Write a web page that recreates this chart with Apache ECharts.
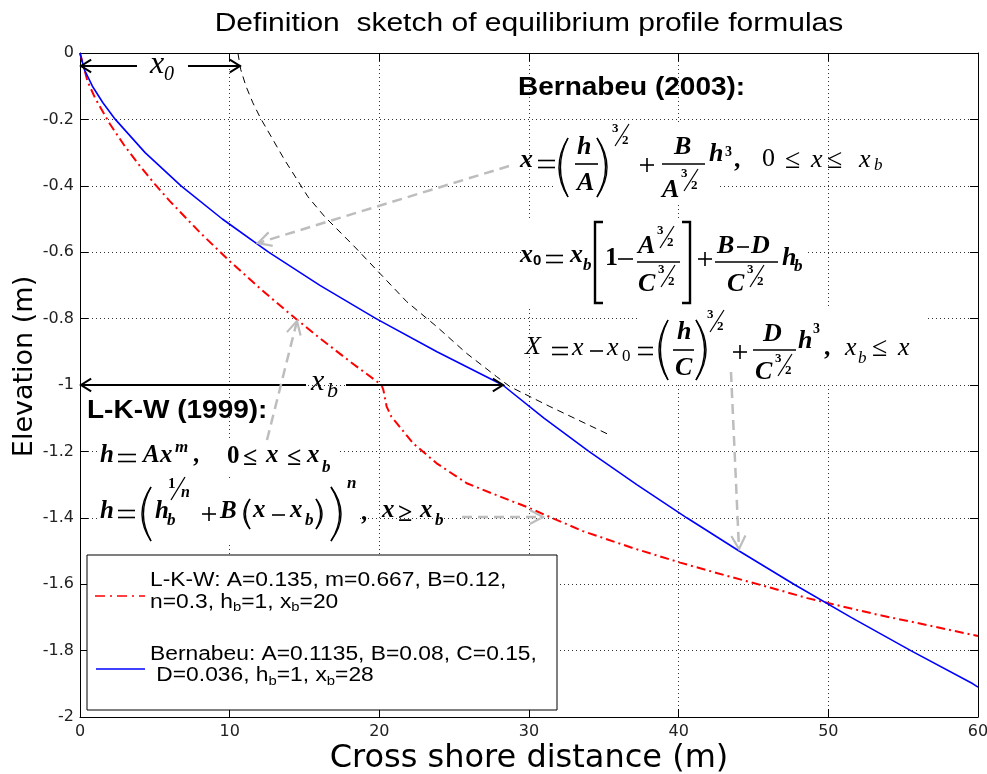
<!DOCTYPE html>
<html><head><meta charset="utf-8">
<script src="https://cdn.jsdelivr.net/npm/echarts@6/dist/echarts.min.js"></script>
<style>html,body{margin:0;padding:0;background:#fff}#c{width:987px;height:774px}</style>
</head><body><div id="c"></div>
<script>
// ---------- data ----------
const xTickLabels = ['0', '10', '20', '30', '40', '50', '60'];
const yTickLabels = ['0', '-0.2', '-0.4', '-0.6', '-0.8', '-1', '-1.2', '-1.4', '-1.6', '-1.8', '-2'];

// L-K-W (1999) profile
const lkwX = [0, 0.5, 1, 2, 3, 4, 5, 6, 8, 10, 12, 14, 16, 18, 20, 20.15, 20.27, 20.49, 20.8, 21.16, 22.27, 23.83, 25.84, 28.06, 30.0, 31.0, 33.6, 37.0, 40.1, 42.6, 44.8, 46.5, 48.6, 50.1, 53.4, 56.6, 60];
const lkwH = [0, -0.085, -0.135, -0.214, -0.281, -0.340, -0.395, -0.446, -0.540, -0.627, -0.708, -0.785, -0.858, -0.928, -0.995, -1.0, -1.015, -1.065, -1.095, -1.115, -1.176, -1.236, -1.296, -1.336, -1.37, -1.39, -1.44, -1.492, -1.535, -1.567, -1.594, -1.615, -1.642, -1.658, -1.693, -1.723, -1.756];

// Bernabeu (2003) profile
const bernX = [0, 0.29, 0.83, 1.53, 2.36, 4.35, 6.75, 9.51, 12.6, 16.03, 19.78, 23.85, 28.24, 31.0, 34.0, 37.2, 40.54, 44.04, 47.7, 51.52, 55.51, 59.66, 60];
const bernH = [0, -0.05, -0.1, -0.15, -0.2, -0.3, -0.4, -0.5, -0.6, -0.7, -0.8, -0.9, -1.0, -1.1, -1.2, -1.3, -1.4, -1.5, -1.6, -1.7, -1.8, -1.9, -1.91];

// dashed outer (shoaling) branch starting at x0
const dashX = [10.55, 10.74, 11.09, 11.55, 12.07, 13.67, 15.23, 16.35, 18.27, 20.04, 21.83, 23.83, 25.84, 27.84, 28.73, 31.4, 35.41];
const dashH = [0, -0.05, -0.1, -0.15, -0.197, -0.322, -0.433, -0.493, -0.58, -0.664, -0.749, -0.824, -0.905, -0.975, -1.005, -1.065, -1.151];

const seriesNames = ['L-K-W', 'Bernabeu', 'x0 branch'];

// ---------- helpers for annotations ----------
const SERIF = '"Liberation Serif","Times New Roman",serif';
const SANS = '"Liberation Sans",Arial,sans-serif';
const G = [];
function txt(x, y, s, size, o) {
  o = o || {};
  const st = {text: s, fontSize: size, fontFamily: o.ff || SERIF, fontWeight: o.fw || 'bold',
    fontStyle: o.fs || 'italic', fill: o.c || '#000', textAlign: o.al || 'left', textVerticalAlign: 'middle',
    align: o.al || 'left', verticalAlign: 'middle'};
  if (o.rich) st.rich = o.rich;
  G.push({type: 'text', x: x, y: y, z: 60, scaleX: o.sx || 1, style: st, silent: true});
}
function ln(x1, y1, x2, y2, w, c, dash, z) {
  G.push({type: 'line', z: z || 60, silent: true, shape: {x1, y1, x2, y2},
    style: {stroke: c || '#000', lineWidth: w || 1.6, lineDash: dash || null, fill: null}});
}
function pl(pts, w, c, z) {
  G.push({type: 'polyline', z: z || 60, silent: true, shape: {points: pts}, style: {stroke: c || '#000', lineWidth: w || 2, fill: null}});
}
function rect(x, y, w, h, fill, stroke, z) {
  G.push({type: 'rect', z: z || 40, silent: true, shape: {x, y, width: w, height: h},
    style: {fill: fill || '#fff', stroke: stroke || null, lineWidth: 1}});
}
function paren(xe, y1, y2, bulge) {
  const d = bulge < xe ? 1.4 : -1.4;
  [0, d].forEach(function (o) {
    const b = bulge + o;
    G.push({type: 'bezierCurve', z: 60, silent: true,
      shape: {x1: xe, y1: y1, x2: xe, y2: y2, cpx1: 2 * b - xe, cpy1: (y1 + y2) / 2},
      style: {stroke: '#000', lineWidth: 1.4, fill: null}});
  });
}
function eq(x1, x2, y) { ln(x1, y - 3.5, x2, y - 3.5, 1.6); ln(x1, y + 3.5, x2, y + 3.5, 1.6); }
function minus(x1, x2, y) { ln(x1, y, x2, y, 1.6); }
function plus(cx, cy, h) { ln(cx - h, cy, cx + h, cy, 1.6); ln(cx, cy - h, cx, cy + h, 1.6); }
function sup32(x, y) {
  txt(x, y - 6, '3', 13, {fs: 'normal'});
  ln(x + 3, y + 11, x + 17, y - 11, 1.2);
  txt(x + 10, y + 6, '2', 13, {fs: 'normal'});
}
function head(tx, ty, fx, fy, len, ang, c, w, z) {
  const a = Math.atan2(fy - ty, fx - tx), d = ang * Math.PI / 180;
  pl([[tx + len * Math.cos(a + d), ty + len * Math.sin(a + d)], [tx, ty],
      [tx + len * Math.cos(a - d), ty + len * Math.sin(a - d)]], w, c, z);
}
function grayArrow(x1, y1, x2, y2) {
  ln(x1, y1, x2, y2, 2.5, '#bdbdbd', [10, 6], 70);
  head(x2, y2, x1, y1, 15, 28, '#bdbdbd', 2.2, 70);
}
const R = {fw: 'normal'};            // regular italic
const U = {fs: 'normal'};            // bold upright
const RU = {fw: 'normal', fs: 'normal'};

// ---------- title ----------
txt(529, 24, 'Definition  sketch of equilibrium profile formulas', 25, {ff: SANS, fw: 'normal', fs: 'normal', al: 'center', sx: 1.2});

// ---------- white boxes behind formula images ----------
rect(553, 122, 164, 81);
rect(523, 218, 282, 88);
rect(637, 306, 288, 79);
rect(98, 440, 240, 35);
rect(97, 478, 263, 67);

// ---------- Bernabeu block ----------
txt(518, 88, 'Bernabeu (2003):', 25, {ff: SANS, fw: 'bold', fs: 'normal', sx: 1.12});
// line 1
txt(520, 160.5, 'x', 26); eq(538, 555, 164);
paren(568, 138, 197, 559); txt(577, 147, 'h', 26); ln(575, 164, 598, 164, 1.6); txt(577, 183, 'A', 26); paren(597, 138, 197, 607);
sup32(612, 135); plus(647, 165, 7);
txt(674, 147, 'B', 26); ln(662, 164, 705, 164, 1.6); txt(662, 190, 'A', 26); sup32(681, 180);
txt(709, 154, 'h', 26); txt(725, 152, '3', 14, U); txt(735, 160, ',', 26);
txt(762, 159, '0', 26, RU); txt(785, 161, '\u2264', 28, RU); txt(811, 160.5, 'x', 26, R); txt(827, 161, '\u2264', 28, RU);
txt(859, 160.5, 'x', 26, R); txt(874, 166, 'b', 17, R);
// line 2
txt(520, 255.5, 'x', 26); txt(533, 261, '0', 15, {ff: SANS, fs: 'normal'}); eq(546, 563, 259);
txt(570, 255.5, 'x', 26); txt(583, 266, 'b', 17);
pl([[603, 222], [595, 222], [595, 303], [603, 303]], 2.4);
txt(605, 258, '1', 26, U); minus(618, 633, 259);
txt(638, 246, 'A', 26); sup32(657, 237); ln(637, 262, 680, 262, 1.6); txt(638, 284, 'C', 26); sup32(658, 276);
pl([[682, 222], [690, 222], [690, 303], [682, 303]], 2.4);
plus(705, 259, 7);
txt(717, 246, 'B', 26); minus(737, 749, 247); txt(751, 246, 'D', 26);
ln(715, 262, 778, 262, 1.6); txt(727, 284, 'C', 26); sup32(747, 276);
txt(782, 258, 'h', 26); txt(794, 267, 'b', 17);
// line 3
txt(525, 347, 'X', 26, R); eq(552, 568, 351); txt(572, 348, 'x', 26, R); minus(590, 603, 351);
txt(607, 348, 'x', 26, R); txt(622, 357, '0', 17, RU); eq(638, 653, 351);
paren(668, 320, 380, 659); txt(677, 332.5, 'h', 26); ln(673, 350, 694, 350, 1.6); txt(675, 368, 'C', 26); paren(696, 320, 380, 706);
sup32(707, 321); plus(740, 352, 7);
txt(763, 334, 'D', 26); ln(753, 350, 796, 350, 1.6); txt(755, 372, 'C', 26); sup32(775, 365);
txt(798, 341, 'h', 26); txt(813, 329, '3', 14, U); txt(825, 348, ',', 26);
txt(845, 348, 'x', 26, R); txt(858, 359, 'b', 17, R); txt(872, 349, '\u2264', 28, RU); txt(898, 348, 'x', 26, R);

// ---------- L-K-W block ----------
txt(87, 411, 'L-K-W (1999):', 25, {ff: SANS, fw: 'bold', fs: 'normal', sx: 1.12});
txt(100, 456, 'h', 25); eq(118, 136, 458); txt(143, 456, 'A', 25); txt(160, 455.5, 'x', 25); txt(175, 448, 'm', 17);
txt(194, 456, ',', 25); txt(227, 457, '0', 25, U); txt(243, 458, '\u2264', 26, U); txt(266, 455.5, 'x', 25);
txt(287, 458, '\u2264', 26, U); txt(307, 455.5, 'x', 25); txt(322, 468, 'b', 17);
txt(100, 512, 'h', 25); eq(118, 135, 514);
paren(151, 487, 541, 142); txt(155, 512, 'h', 25); txt(167, 521, 'b', 17);
txt(168, 484, '1', 15, U); ln(171, 500, 185, 477, 1.3); txt(181, 493, 'n', 16);
plus(209, 514, 7); txt(220, 512, 'B', 25);
paren(250, 499, 529, 244); txt(253, 511, 'x', 25); minus(272, 285, 515); txt(290, 511, 'x', 25); txt(305, 521, 'b', 17);
paren(316, 499, 529, 322); paren(331, 487, 541, 341); txt(347, 484, 'n', 17);
txt(362, 514, ',', 25); txt(382, 511, 'x', 25); txt(398, 514, '\u2265', 26, U); txt(420, 511, 'x', 25); txt(435, 521, 'b', 17);

// ---------- black dimension arrows ----------
ln(81, 66, 137, 66, 2); ln(188, 66, 240, 66, 2);
head(81, 66, 100, 66, 12, 32, '#000', 2); head(240, 66, 220, 66, 12, 32, '#000', 2);
txt(150, 65, 'x', 32, R); txt(164, 75, '0', 20, R);
ln(81, 385, 306, 385, 2); ln(346, 385, 503, 385, 2);
head(81, 385, 100, 385, 12, 32, '#000', 2); head(503, 385, 483, 385, 12, 32, '#000', 2);
txt(311, 382, 'x', 30, R); txt(327, 391, 'b', 22, R);

// ---------- gray pointer arrows ----------
grayArrow(509, 166, 258, 243);
grayArrow(267, 440, 297, 321);
grayArrow(462, 517, 543, 517);
grayArrow(731, 372, 739, 549);

// ---------- legend ----------
rect(87, 555, 470, 155, '#fff', '#000', 45);
ln(95, 596, 145, 596, 1.6, '#ff0000', [10, 5, 2, 5]);
ln(96, 669, 145, 669, 1.3, '#0000ff');
const legRich = {
  t: {fontSize: 20, fontFamily: SANS, lineHeight: 24, verticalAlign: 'middle', fill: '#000'},
  s: {fontSize: 13, fontFamily: SANS, lineHeight: 2, verticalAlign: 'bottom', fill: '#000'}
};
txt(150, 580.5, '{t|L-K-W: A=0.135, m=0.667, B=0.12,}', 20, {ff: SANS, fw: 'normal', fs: 'normal', sx: 1.14, rich: legRich});
txt(150, 602, '{t|n=0.3, h}{s|b}{t|=1, x}{s|b}{t|=20}', 20, {ff: SANS, fw: 'normal', fs: 'normal', sx: 1.14, rich: legRich});
txt(150, 654.5, '{t|Bernabeu: A=0.1135, B=0.08, C=0.15,}', 20, {ff: SANS, fw: 'normal', fs: 'normal', sx: 1.14, rich: legRich});
txt(150, 675.5, '{t| D=0.036, h}{s|b}{t|=1, x}{s|b}{t|=28}', 20, {ff: SANS, fw: 'normal', fs: 'normal', sx: 1.14, rich: legRich});

// ---------- chart ----------
const zip = (xs, ys) => xs.map((x, i) => [x, ys[i]]);
const chart = echarts.init(document.getElementById('c'), null, {renderer: 'canvas'});
const axisTxt = {color: '#222', fontFamily: '"DejaVu Sans",sans-serif', fontSize: 16};
chart.setOption({
  animation: false,
  backgroundColor: '#fff',
  grid: {left: 80, right: 9, top: 53, bottom: 57, show: false, containLabel: false, outerBoundsMode: 'none'},
  xAxis: [{
    type: 'value', min: 0, max: 60, interval: 10, position: 'bottom',
    axisLine: {show: true, onZero: false, lineStyle: {color: '#000', width: 1}},
    axisTick: {show: true, inside: true, length: 8, lineStyle: {color: '#000'}},
    axisLabel: Object.assign({margin: 7, showMinLabel: true, showMaxLabel: true,
      formatter: v => xTickLabels[Math.round(v / 10)]}, axisTxt),
    splitLine: {show: true, lineStyle: {color: '#333', type: [1, 3], width: 1}},
    name: 'Cross shore distance (m)', nameLocation: 'middle', nameGap: 26, nameMoveOverlap: false,
    nameTextStyle: {color: '#000', fontFamily: '"DejaVu Sans",sans-serif', fontSize: 32}
  }, {
    type: 'value', min: 0, max: 60, interval: 10, position: 'top',
    axisLine: {show: true, onZero: false, lineStyle: {color: '#000', width: 1}},
    axisTick: {show: true, inside: true, length: 8, lineStyle: {color: '#000'}},
    axisLabel: {show: false}, splitLine: {show: false}
  }],
  yAxis: [{
    type: 'value', min: -2, max: 0, interval: 0.2, position: 'left',
    axisLine: {show: true, onZero: false, lineStyle: {color: '#000', width: 1}},
    axisTick: {show: true, inside: true, length: 8, lineStyle: {color: '#000'}},
    axisLabel: Object.assign({margin: 6, showMinLabel: true, showMaxLabel: true,
      formatter: v => yTickLabels[Math.round(-v / 0.2)]}, axisTxt),
    splitLine: {show: true, lineStyle: {color: '#333', type: [1, 3], width: 1}},
    name: 'Elevation (m)', nameLocation: 'middle', nameGap: 42, nameRotate: 90, nameMoveOverlap: false,
    nameTextStyle: {color: '#000', fontFamily: '"DejaVu Sans",sans-serif', fontSize: 27, padding: [0, 0, 0, 37]}
  }, {
    type: 'value', min: -2, max: 0, interval: 0.2, position: 'right',
    axisLine: {show: true, onZero: false, lineStyle: {color: '#000', width: 1}},
    axisTick: {show: true, inside: true, length: 8, lineStyle: {color: '#000'}},
    axisLabel: {show: false}, splitLine: {show: false}
  }],
  series: [{
    name: seriesNames[2], type: 'line', data: zip(dashX, dashH), symbol: 'none', z: 3,
    lineStyle: {color: '#000', width: 1, type: [7, 5]}
  }, {
    name: seriesNames[0], type: 'line', data: zip(lkwX, lkwH), symbol: 'none', z: 4,
    lineStyle: {color: '#ff0000', width: 2, type: [9, 4, 2, 4]}
  }, {
    name: seriesNames[1], type: 'line', data: zip(bernX, bernH), symbol: 'none', z: 5,
    lineStyle: {color: '#0000ff', width: 1.6}
  }],
  graphic: {elements: G}
});
</script>
</body></html>
